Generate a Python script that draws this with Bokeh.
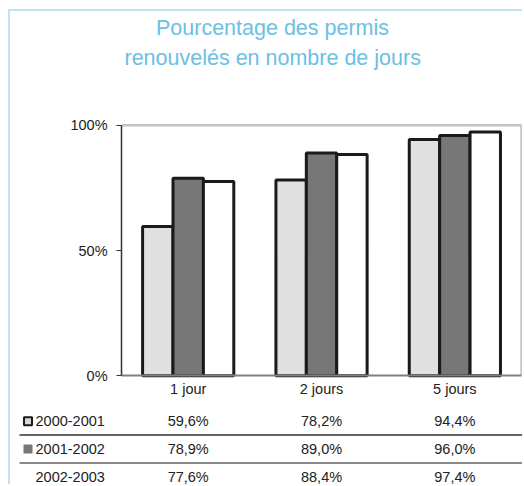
from bokeh.plotting import figure
from bokeh.models import Range1d, LinearAxis, FixedTicker, Title, ColumnDataSource
from bokeh.core.properties import value
from bokeh.embed import file_html
from bokeh.resources import INLINE

# ---- data ----
categories = ["1 jour", "2 jours", "5 jours"]
series = ["2000-2001", "2001-2002", "2002-2003"]
v2000_2001 = [59.6, 78.2, 94.4]
v2001_2002 = [78.9, 89.0, 96.0]
v2002_2003 = [77.6, 88.4, 97.4]
y_ticks = [0, 50, 100]
y_tick_labels = ["0%", "50%", "100%"]
title_lines = ["Pourcentage des permis", "renouvelés en nombre de jours"]

values = [v2000_2001, v2001_2002, v2002_2003]
fills = ["#e0e0e0", "#777777", "#ffffff"]

FONT = "Liberation Sans"
CX, CY = 10, 11          # canvas origin in the page
W, H = 524 - CX, 486 - CY
FRAME_TOP = 70           # page px of the frame top

# pixel geometry -> data ranges
px_per_cat = 133.33
xs = -(187.7 - CX) / px_per_cat
xe = xs + W / px_per_cat
px_per_pct = 2.51
ys = -(486 - 375) / px_per_pct
ye = 100 + (124 - FRAME_TOP) / px_per_pct


def xd(px):
    return xs + (px - CX) / px_per_cat


def yd(py):
    return (375 - py) / px_per_pct


p = figure(width=W, height=H, output_backend="svg", toolbar_location=None,
           x_range=Range1d(xs, xe), y_range=Range1d(ys, ye),
           min_border_left=0, min_border_right=0, min_border_bottom=0,
           min_border_top=FRAME_TOP - CY,
           x_axis_type=None, y_axis_type=None,
           styles={"margin-left": "8px", "margin-top": "9px",
                   "border-left": "2px solid #bfe3f3", "border-top": "2px solid #bfe3f3"})
p.xgrid.visible = False
p.ygrid.visible = False
p.outline_line_color = None
p.background_fill_color = "white"
p.border_fill_color = "white"

# titles (two lines)
t2 = Title(text=title_lines[1], align="left", offset=114,
           text_font=FONT, text_font_size="21.5px", text_font_style="normal",
           text_color="#6cc0e4", standoff=4)
t1 = Title(text=title_lines[0], align="left", offset=145.5,
           text_font=FONT, text_font_size="21.5px", text_font_style="normal",
           text_color="#6cc0e4", standoff=4)
p.add_layout(t2, "above")
p.add_layout(t1, "above")

# frame lines (top and right)
p.segment(x0=[-0.5, 2.5], y0=[100, 0], x1=[2.5, 2.5], y1=[100, 100],
          line_color="#c4c4c4", line_width=2.5)

# bars
bw = 0.228
offsets = [-bw, 0, bw]
for vals, off, fc, name in zip(values, offsets, fills, series):
    src = ColumnDataSource(dict(x=[i + off for i in range(len(categories))], top=vals))
    p.vbar(x="x", top="top", bottom=0, width=bw, source=src,
           fill_color=fc, line_color="#1a1a1a", line_width=3)

# axes
yaxis = LinearAxis(fixed_location=-0.5, bounds=(0, 100),
                   ticker=FixedTicker(ticks=y_ticks),
                   major_label_overrides={t: l for t, l in zip(y_ticks, y_tick_labels)})
yaxis.axis_line_color = "#333333"
yaxis.axis_line_width = 1.5
yaxis.major_tick_line_color = "#333333"
yaxis.major_tick_out = 5
yaxis.major_tick_in = 0
yaxis.minor_tick_out = 0
yaxis.minor_tick_in = 0
yaxis.major_label_standoff = 9
yaxis.major_label_text_font = FONT
yaxis.major_label_text_font_size = "14.5px"
yaxis.major_label_text_color = "#222222"
p.add_layout(yaxis, "left")

xaxis = LinearAxis(fixed_location=0, bounds=(-0.5, 2.5),
                   ticker=FixedTicker(ticks=list(range(len(categories)))),
                   major_label_overrides={i: c for i, c in enumerate(categories)})
xaxis.axis_line_color = "#808080"
xaxis.axis_line_width = 2
xaxis.major_tick_out = 0
xaxis.major_tick_in = 0
xaxis.minor_tick_out = 0
xaxis.minor_tick_in = 0
xaxis.major_label_standoff = 5
xaxis.major_label_text_font = FONT
xaxis.major_label_text_font_size = "14.5px"
xaxis.major_label_text_color = "#222222"
p.add_layout(xaxis, "below")

# data table below the chart
row_y = [yd(420.5 + 28 * k) for k in range(len(series))]
label_x = xd(35)
swatch_x = xd(27.5)
line_x0 = xd(19)

p.text(x=[label_x] * len(series), y=row_y, text=series,
       text_font=value(FONT), text_font_size="14.5px", text_color="#222222",
       text_align="left", text_baseline="middle")

p.rect(x=[swatch_x], y=[row_y[0]], width=8, height=8, width_units="screen",
       height_units="screen", fill_color="#d8d8d8", line_color="#1a1a1a", line_width=2)
p.rect(x=[swatch_x], y=[row_y[1]], width=9, height=9, width_units="screen",
       height_units="screen", fill_color=fills[1], line_color=None)

for vals, ry in zip(values, row_y):
    txt = [f"{v:.1f}".replace(".", ",") + "%" for v in vals]
    p.text(x=list(range(len(categories))), y=[ry] * len(vals), text=txt,
           text_font=value(FONT), text_font_size="14.5px", text_color="#222222",
           text_align="center", text_baseline="middle")

mid1 = (row_y[0] + row_y[1]) / 2
mid2 = (row_y[1] + row_y[2]) / 2
p.segment(x0=[line_x0], y0=[mid1], x1=[xe], y1=[mid1], line_color="#333333", line_width=1.5)
p.segment(x0=[line_x0], y0=[mid2], x1=[xe], y1=[mid2], line_color="#8a8a8a", line_width=2)

open("out.html", "w").write(file_html(p, INLINE))
